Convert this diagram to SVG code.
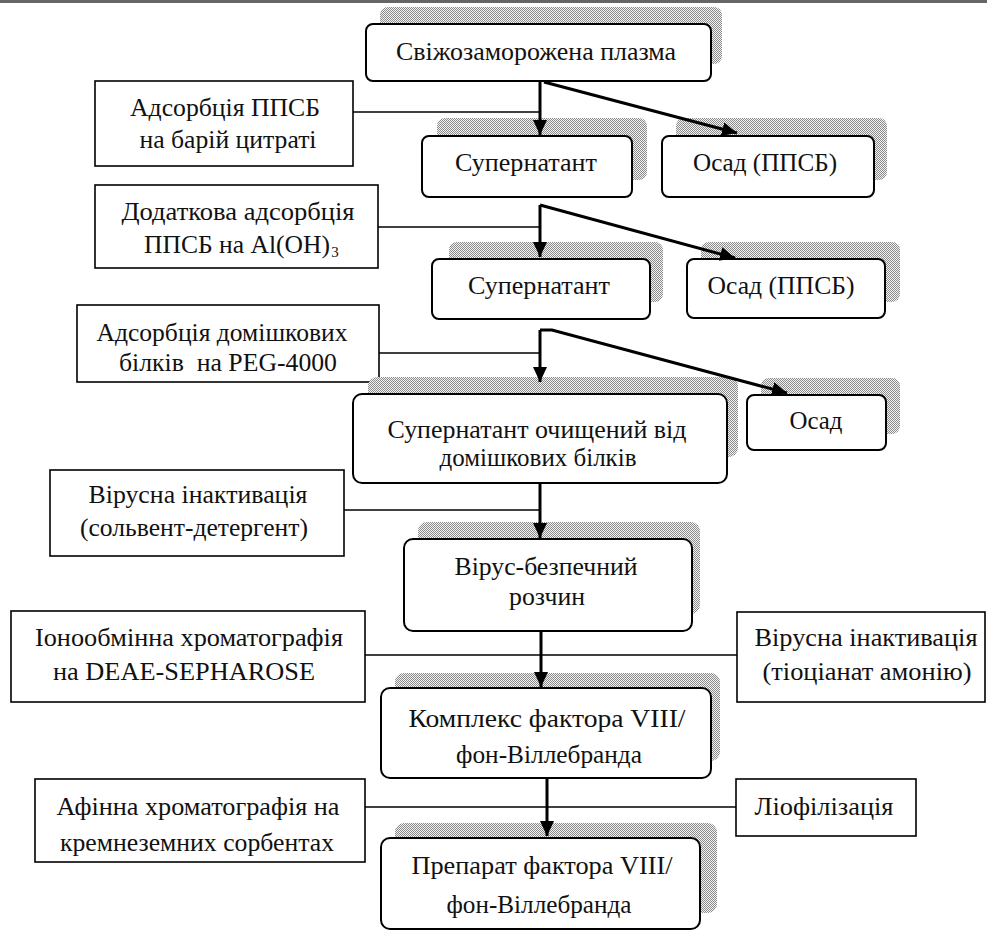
<svg xmlns="http://www.w3.org/2000/svg" width="987" height="932" viewBox="0 0 987 932" font-family="'Times New Roman', Times, 'Liberation Serif', 'DejaVu Serif', serif">
<defs>
<pattern id="dots" width="2" height="2" patternUnits="userSpaceOnUse">
<rect width="2" height="2" fill="#f2f2f2"/>
<rect width="1" height="1" fill="#8c8c8c"/>
<rect x="1" y="1" width="1" height="1" fill="#8c8c8c"/>
</pattern>
<marker id="ah" markerUnits="userSpaceOnUse" markerWidth="16" markerHeight="16" refX="15" refY="7" orient="auto">
<path d="M0,0 L15,7 L0,14 z" fill="#000"/>
</marker>
</defs>
<style>
text{font-family:"Times New Roman",Times,"Liberation Serif","DejaVu Serif",serif;font-size:25px;fill:#111;text-anchor:middle}
.sh{fill:url(#dots);stroke:none}
.rb{fill:#fff;stroke:#000;stroke-width:2}
.pb{fill:#fff;stroke:#000;stroke-width:1.6}
.thin{stroke:#000;stroke-width:1.6;fill:none}
.thick{stroke:#000;stroke-width:3;fill:none}
</style>
<rect x="0" y="0" width="987" height="3" fill="#666"/>

<g id="n1">
<rect class="sh" x="380" y="7" width="342" height="57" rx="8"/>
<rect class="rb" x="366" y="24" width="345" height="57" rx="7"/>
<text x="536" y="60" textLength="280" lengthAdjust="spacingAndGlyphs">Свіжозаморожена плазма</text>
</g>

<g id="l1">
<rect class="pb" x="95" y="81" width="258" height="85"/>
<text x="225" y="116" textLength="190" lengthAdjust="spacingAndGlyphs">Адсорбція ППСБ</text>
<text x="228" y="148" textLength="177" lengthAdjust="spacingAndGlyphs">на барій цитраті</text>
</g>

<g id="n2">
<rect class="sh" x="437" y="118" width="210" height="62" rx="8"/>
<rect class="rb" x="422" y="136" width="210" height="61" rx="7"/>
<text x="526" y="171" textLength="142" lengthAdjust="spacingAndGlyphs">Супернатант</text>
</g>

<g id="n3">
<rect class="sh" x="676" y="118" width="211" height="62" rx="8"/>
<rect class="rb" x="662" y="136" width="212" height="61" rx="7"/>
<text x="765" y="171" textLength="144" lengthAdjust="spacingAndGlyphs">Осад (ППСБ)</text>
</g>

<g id="l2">
<rect class="pb" x="95" y="185" width="283" height="83"/>
<text x="238" y="220" textLength="233" lengthAdjust="spacingAndGlyphs">Додаткова адсорбція</text>
<text x="237" y="253" textLength="186" lengthAdjust="spacingAndGlyphs">ППСБ на Al(OH)</text>
<text x="335" y="257" style="font-size:15px">3</text>
</g>

<g id="n4">
<rect class="sh" x="449" y="242" width="214" height="60" rx="8"/>
<rect class="rb" x="432" y="259" width="218" height="60" rx="7"/>
<text x="539" y="294" textLength="142" lengthAdjust="spacingAndGlyphs">Супернатант</text>
</g>

<g id="n5">
<rect class="sh" x="701" y="242" width="199" height="60" rx="8"/>
<rect class="rb" x="687" y="259" width="198" height="59" rx="7"/>
<text x="781" y="294" textLength="147" lengthAdjust="spacingAndGlyphs">Осад (ППСБ)</text>
</g>

<g id="l3">
<rect class="pb" x="77" y="305" width="302" height="77"/>
<text x="222" y="341" textLength="251" lengthAdjust="spacingAndGlyphs">Адсорбція домішкових</text>
<text x="228" y="371" textLength="218" lengthAdjust="spacingAndGlyphs" xml:space="preserve">білків  на PEG-4000</text>
</g>

<g id="n6">
<rect class="sh" x="368" y="377" width="370" height="80" rx="9"/>
<rect class="rb" x="353" y="394" width="374" height="89" rx="9"/>
<text x="537" y="438" textLength="299" lengthAdjust="spacingAndGlyphs">Супернатант очищений від</text>
<text x="538" y="466" textLength="197" lengthAdjust="spacingAndGlyphs">домішкових білків</text>
</g>

<g id="n7">
<rect class="sh" x="761" y="378" width="139" height="56" rx="8"/>
<rect class="rb" x="747" y="395" width="139" height="55" rx="7"/>
<text x="816" y="429" textLength="53" lengthAdjust="spacingAndGlyphs">Осад</text>
</g>

<g id="l4">
<rect class="pb" x="50" y="470" width="294" height="86"/>
<text x="198" y="503" textLength="219" lengthAdjust="spacingAndGlyphs">Вірусна інактивація</text>
<text x="194" y="536" textLength="228" lengthAdjust="spacingAndGlyphs">(сольвент-детергент)</text>
</g>

<g id="n8">
<rect class="sh" x="418" y="522" width="282" height="92" rx="9"/>
<rect class="rb" x="404" y="539" width="288" height="92" rx="9"/>
<text x="546" y="575" textLength="183" lengthAdjust="spacingAndGlyphs">Вірус-безпечний</text>
<text x="547" y="605" textLength="76" lengthAdjust="spacingAndGlyphs">розчин</text>
</g>

<g id="l5">
<rect class="pb" x="11" y="611" width="354" height="91"/>
<text x="189" y="646" textLength="308" lengthAdjust="spacingAndGlyphs">Іонообмінна хроматографія</text>
<text x="184" y="680" textLength="262" lengthAdjust="spacingAndGlyphs">на DEAE-SEPHAROSE</text>
</g>

<g id="r1">
<rect class="pb" x="737" y="612" width="248" height="90"/>
<text x="866" y="646" textLength="223" lengthAdjust="spacingAndGlyphs">Вірусна інактивація</text>
<text x="867" y="680" textLength="209" lengthAdjust="spacingAndGlyphs">(тіоціанат амонію)</text>
</g>

<g id="n9">
<rect class="sh" x="395" y="673" width="325" height="88" rx="9"/>
<rect class="rb" x="381" y="688" width="330" height="90" rx="9"/>
<text x="547" y="727" textLength="277" lengthAdjust="spacingAndGlyphs">Комплекс фактора VIII/</text>
<text x="549" y="763" textLength="186" lengthAdjust="spacingAndGlyphs">фон-Віллебранда</text>
</g>

<g id="l6">
<rect class="pb" x="35" y="779" width="330" height="83"/>
<text x="198" y="815" textLength="283" lengthAdjust="spacingAndGlyphs">Афінна хроматографія на</text>
<text x="197" y="851" textLength="274" lengthAdjust="spacingAndGlyphs">кремнеземних сорбентах</text>
</g>

<g id="r2">
<rect class="pb" x="736" y="779" width="180" height="57"/>
<text x="824" y="815" textLength="139" lengthAdjust="spacingAndGlyphs">Ліофілізація</text>
</g>

<g id="n10">
<rect class="sh" x="395" y="823" width="322" height="90" rx="9"/>
<rect class="rb" x="381" y="838" width="319" height="91" rx="9"/>
<text x="542" y="874" textLength="261" lengthAdjust="spacingAndGlyphs">Препарат фактора VIII/</text>
<text x="539" y="913" textLength="185" lengthAdjust="spacingAndGlyphs">фон-Віллебранда</text>
</g>

<g id="connectors">
<line class="thin" x1="353" y1="112" x2="540" y2="112"/>
<line class="thin" x1="378" y1="227" x2="540" y2="227"/>
<line class="thin" x1="379" y1="353" x2="540" y2="353"/>
<line class="thin" x1="344" y1="510" x2="540" y2="510"/>
<line class="thin" x1="365" y1="655" x2="737" y2="655"/>
<line class="thin" x1="365" y1="807" x2="736" y2="807"/>
<line class="thick" x1="540" y1="82" x2="540" y2="135" marker-end="url(#ah)"/>
<line class="thick" x1="544" y1="82" x2="737" y2="133" marker-end="url(#ah)"/>
<line class="thick" x1="540" y1="205" x2="540" y2="257" marker-end="url(#ah)"/>
<path class="thick" d="M540,205 L735,258" marker-end="url(#ah)"/>
<line class="thick" x1="540" y1="330" x2="540" y2="382" marker-end="url(#ah)"/>
<path class="thick" d="M540,330 L552,330 L787,393" marker-end="url(#ah)"/>
<line class="thick" x1="540" y1="484" x2="540" y2="538" marker-end="url(#ah)"/>
<line class="thick" x1="541" y1="632" x2="541" y2="687" marker-end="url(#ah)"/>
<line class="thick" x1="547" y1="779" x2="547" y2="836" marker-end="url(#ah)"/>
</g>
</svg>
